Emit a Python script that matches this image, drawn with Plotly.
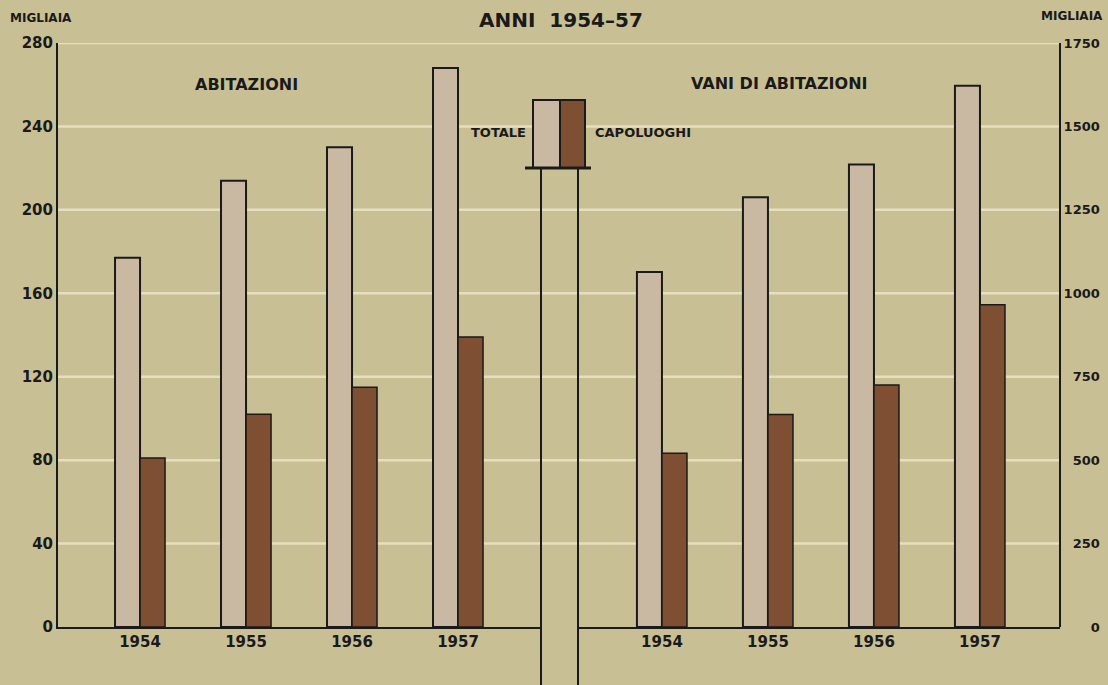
import plotly.graph_objects as go

# ---- data (migliaia) ----
anni = ["1954", "1955", "1956", "1957"]
abitazioni_totale = [177, 214, 230, 268]
abitazioni_capoluoghi = [81, 102, 115, 139]
vani_totale = [1064, 1288, 1386, 1622]
vani_capoluoghi = [521, 637, 725, 966]
left_ticks = [0, 40, 80, 120, 160, 200, 240, 280]
right_ticks = [0, 250, 500, 750, 1000, 1250, 1500, 1750]

# ---- style ----
BG = "#c9bf94"
GRID = "#e6dfbd"
C_TOT = "#c9b8a2"
C_CAP = "#7f4f33"
INK = "#1a1a1a"
FONT = "DejaVu Sans"

W, H = 1108, 685
ML, MR, MT, MB = 58, 48, 43, 58
PW, PH = W - ML - MR, H - MT - MB

def px(xp):
    return (xp - ML) / PW

def py(yp):
    return (H - MB - yp) / PH

pos = list(range(len(anni)))
bw = 0.236

fig = go.Figure()
fig.add_trace(go.Bar(x=pos, y=abitazioni_totale, xaxis="x", yaxis="y", width=bw, offset=-bw,
                     marker=dict(color=C_TOT, line=dict(color=INK, width=2)), name="TOTALE"))
fig.add_trace(go.Bar(x=pos, y=abitazioni_capoluoghi, xaxis="x", yaxis="y", width=bw, offset=0,
                     marker=dict(color=C_CAP, line=dict(color=INK, width=1.5)), name="CAPOLUOGHI"))
fig.add_trace(go.Bar(x=pos, y=vani_totale, xaxis="x2", yaxis="y2", width=bw, offset=-bw,
                     marker=dict(color=C_TOT, line=dict(color=INK, width=2)), name="TOTALE"))
fig.add_trace(go.Bar(x=pos, y=vani_capoluoghi, xaxis="x2", yaxis="y2", width=bw, offset=0,
                     marker=dict(color=C_CAP, line=dict(color=INK, width=1.5)), name="CAPOLUOGHI"))

tickfont = dict(family=FONT, size=15, color=INK, weight="bold")

shapes = []
# gridlines across full width
for t in left_ticks[1:]:
    shapes.append(dict(type="line", xref="paper", yref="y", x0=0, x1=1, y0=t, y1=t,
                       line=dict(color=GRID, width=2.5), layer="below"))
# legend boxes
shapes.append(dict(type="rect", xref="paper", yref="paper", x0=px(533), x1=px(560), y0=py(168), y1=py(100),
                   fillcolor=C_TOT, line=dict(color=INK, width=2)))
shapes.append(dict(type="rect", xref="paper", yref="paper", x0=px(560), x1=px(585), y0=py(168), y1=py(100),
                   fillcolor=C_CAP, line=dict(color=INK, width=2)))
shapes.append(dict(type="line", xref="paper", yref="paper", x0=px(525), x1=px(591), y0=py(168), y1=py(168),
                   line=dict(color=INK, width=3)))
for xv in (541, 578):
    shapes.append(dict(type="line", xref="paper", yref="paper", x0=px(xv), x1=px(xv), y0=py(168), y1=py(690),
                       line=dict(color=INK, width=2)))

ann = []
def txt(x, y, s, size, xanchor="center"):
    ann.append(dict(x=px(x), y=py(y), xref="paper", yref="paper", text=s, showarrow=False,
                    xanchor=xanchor, yanchor="middle",
                    font=dict(family=FONT, size=size, color=INK, weight="bold")))

txt(561, 20, "ANNI  1954–57", 20)
txt(8, 18, "MIGLIAIA", 12, "left")
txt(1105, 16, "MIGLIAIA", 12, "right")
txt(246, 84, "ABITAZIONI", 16)
txt(779, 83, "VANI DI ABITAZIONI", 16)
txt(528, 133, "TOTALE", 13, "right")
txt(593, 133, "CAPOLUOGHI", 13, "left")

right_text = [("\u2007" * (4 - len(str(v)))) + str(v) for v in right_ticks]

fig.update_layout(
    width=W, height=H,
    margin=dict(l=ML, r=MR, t=MT, b=MB, pad=0, autoexpand=False),
    paper_bgcolor=BG, plot_bgcolor=BG,
    barmode="overlay", showlegend=False,
    shapes=shapes, annotations=ann,
    xaxis=dict(domain=[0, px(541)], range=[-0.774, 3.783], tickvals=pos, ticktext=anni,
               showline=True, linecolor=INK, linewidth=2, showgrid=False, zeroline=False,
               ticks="", tickfont=tickfont, fixedrange=True, automargin=False),
    xaxis2=dict(domain=[px(578), 1], range=[-0.792, 3.755], tickvals=pos, ticktext=anni,
                anchor="y2", showline=True, linecolor=INK, linewidth=2, showgrid=False, zeroline=False,
                ticks="", tickfont=tickfont, fixedrange=True, automargin=False),
    yaxis=dict(range=[0, 280], tickvals=left_ticks, showline=True, linecolor=INK, linewidth=2,
               showgrid=False, zeroline=False, ticks="", tickfont=tickfont, anchor="x",
               automargin=False),
    yaxis2=dict(range=[0, 1750], tickvals=right_ticks, ticktext=right_text, side="right",
                anchor="free", position=1, showline=True, linecolor=INK, linewidth=2,
                showgrid=False, zeroline=False, ticks="", automargin=False,
                tickfont=dict(family=FONT, size=13, color=INK, weight="bold")),
)

fig.write_html("out.html", config={"displayModeBar": False},
               post_script="document.body.style.margin='0';document.body.style.background='" + BG + "';")
